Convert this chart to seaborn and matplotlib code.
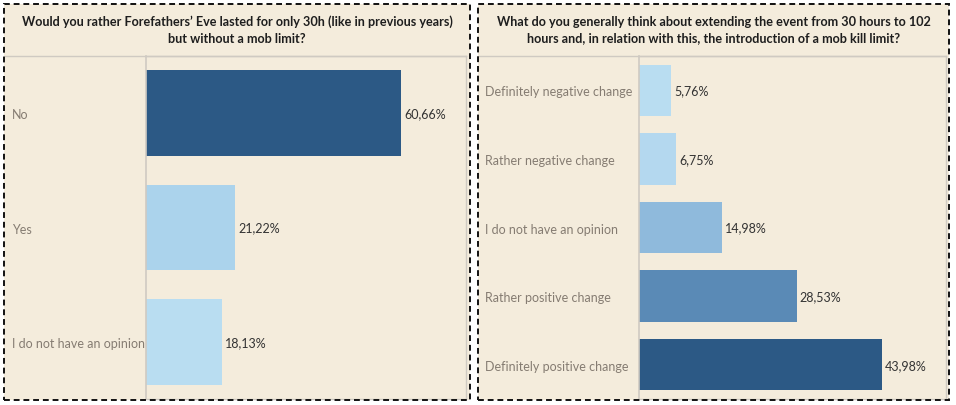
import matplotlib
matplotlib.use("Agg")
import matplotlib.pyplot as plt
import seaborn as sns
import pandas as pd
from matplotlib.patches import Rectangle

# survey answers, question 1
q1_answers = ["No", "Yes", "I do not have an opinion"]
q1_share = [60.66, 21.22, 18.13]
q1_colors = ["#2c5985", "#abd3ec", "#b9ddf1"]

# survey answers, question 2
q2_answers = ["Definitely negative change", "Rather negative change",
              "I do not have an opinion", "Rather positive change",
              "Definitely positive change"]
q2_share = [5.76, 6.75, 14.98, 28.53, 43.98]
q2_colors = ["#b9ddf1", "#b4d8ef", "#8fbadc", "#5a8ab6", "#2c5985"]

q1_title = ("Would you rather Forefathers\u2019 Eve lasted for only 30h (like in previous years)\n"
            "but without a mob limit?")
q2_title = ("What do you generally think about extending the event from 30 hours to 102\n"
            "hours and, in relation with this, the introduction of a mob kill limit?")

BG = "#f4ecdc"
GRID = "#cfcac2"
FONT = "Lato"

sns.set_style("white")
plt.rcParams["font.family"] = [FONT, "DejaVu Sans"]

W, H = 956, 406
fig = plt.figure(figsize=(W / 100, H / 100), dpi=100)
fig.patch.set_facecolor("white")


def px_rect(x0, y0, x1, y1):
    # pixel box (top-left origin) -> figure fraction [l, b, w, h]
    return [x0 / W, 1 - y1 / H, (x1 - x0) / W, (y1 - y0) / H]


def draw_panel(panel, axes_box, answers, share, colors, title, xmax, label_x):
    # beige background + dashed frame
    l, b, w, h = px_rect(*panel)
    fig.patches.append(Rectangle((l, b), w, h, transform=fig.transFigure,
                                 facecolor=BG, edgecolor="none", zorder=-10))
    fig.add_artist(Rectangle((l, b), w, h, transform=fig.transFigure,
                             facecolor="none", edgecolor="#111111", lw=1.4,
                             ls=(0, (3, 2)), zorder=10))
    fig.text(l + w / 2, 1 - 30 / H, title, ha="center", va="center",
             fontsize=9.1, fontweight="bold", color="#1e1e1e",
             linespacing=1.45)

    ax = fig.add_axes(px_rect(*axes_box))
    ax.set_facecolor(BG)
    df = pd.DataFrame({"answer": answers, "share": share})
    sns.barplot(data=df, y="answer", x="share", hue="answer",
                palette=dict(zip(answers, colors)), order=answers,
                orient="h", width=0.75, legend=False, ax=ax,
                saturation=1, linewidth=0, edgecolor="none")
    ax.set_xlim(0, xmax)
    ax.set_ylim(len(answers) - 0.5, -0.5)
    ax.set_xlabel("")
    ax.set_ylabel("")
    ax.set_xticks([])
    for s in ["top", "right", "bottom", "left"]:
        ax.spines[s].set_color(GRID)
        ax.spines[s].set_linewidth(1)
    ax.spines["left"].set_linewidth(1.2)

    pad_pt = (axes_box[0] - label_x) * 72 / 100
    ax.tick_params(axis="y", length=0, pad=pad_pt, labelsize=9,
                   labelcolor="#857c72")
    for t in ax.get_yticklabels():
        t.set_horizontalalignment("left")

    for i, v in enumerate(share):
        ax.text(v + xmax * 0.01, i, f"{v:.2f}%".replace(".", ","),
                va="center", ha="left", fontsize=9, color="#333333")

    # top separator across the whole panel
    fig.add_artist(plt.Line2D([(panel[0] + 1) / W, axes_box[2] / W],
                              [1 - axes_box[1] / H] * 2,
                              color=GRID, lw=1, transform=fig.transFigure))
    return ax


draw_panel((4, 5, 470, 401), (146, 57, 466, 400), q1_answers, q1_share,
           q1_colors, q1_title, 76.2, 12)
draw_panel((478, 5, 949, 401), (639, 57, 946, 400), q2_answers, q2_share,
           q2_colors, q2_title, 55.6, 485)

fig.savefig("out.png", dpi=100, facecolor="white")
